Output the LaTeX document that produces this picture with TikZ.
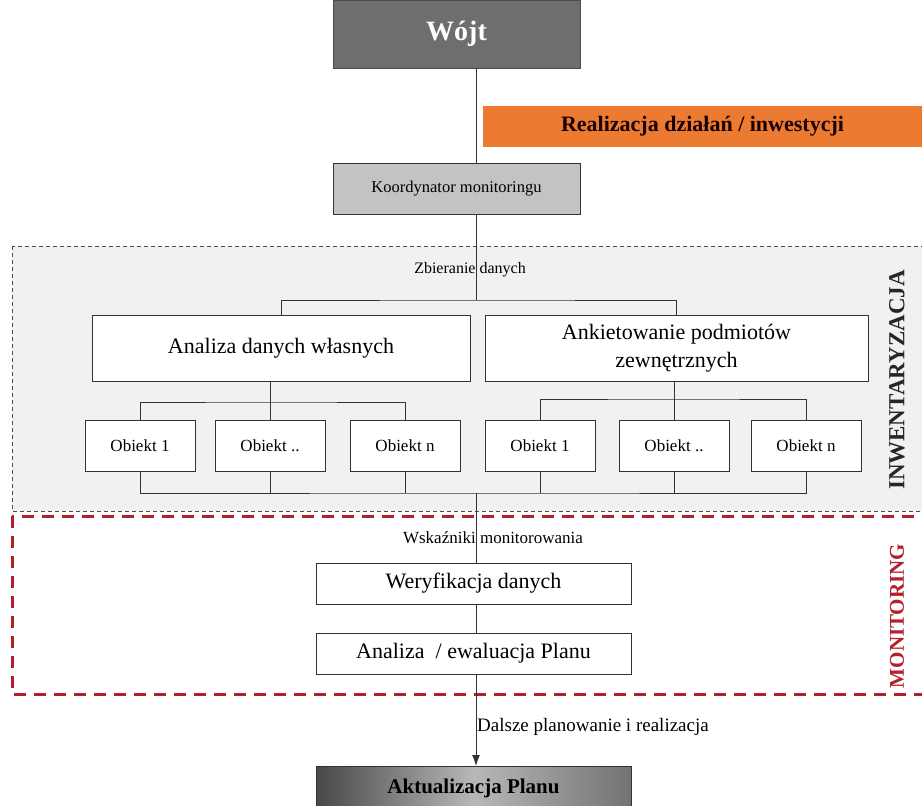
\documentclass[tikz,border=0pt]{standalone}
\usepackage{fontspec}
\setmainfont{Liberation Serif}
\usetikzlibrary{arrows,arrows.meta,shapes,positioning,calc}
\definecolor{wojtfill}{HTML}{6E6E6E}
\definecolor{koordfill}{HTML}{C3C3C3}
\definecolor{realizfill}{HTML}{EC7A30}
\definecolor{inwfill}{HTML}{F1F1F1}
\definecolor{monred}{HTML}{B3202C}

\begin{document}
\begin{tikzpicture}[x=1pt,y=-1pt,
    box/.style={draw=black!80, line width=1pt, inner sep=0pt, outer sep=0pt, align=center, fill=white},
    obj/.style={box, minimum width=110pt, minimum height=51pt, font=\fontsize{17}{20}\selectfont},
    bigbox/.style={box, minimum height=66pt, font=\fontsize{22}{28}\selectfont},
    monbox/.style={box, minimum width=315pt, minimum height=41pt, font=\fontsize{22}{26}\selectfont},
    lbl/.style={inner sep=0pt, font=\fontsize{17}{20}\selectfont},
    link/.style={draw=black!80, line width=1pt}]
\useasboundingbox (0,0) rectangle (922,806);

% obszary
\draw[fill=inwfill, draw=black!70, line width=1pt, dash pattern=on 4pt off 3pt] (12,246) rectangle (935,511);
\draw[draw=monred, line width=3pt, dash pattern=on 12pt off 8pt] (12,516) rectangle (935,694);
\node[rotate=90, font=\bfseries\fontsize{23}{26}\selectfont, text=black!85] (inw) at (897,380) {INWENTARYZACJA};
\node[rotate=90, font=\bfseries\fontsize{21}{24}\selectfont, text=monred] (mon) at (897,616) {MONITORING};

% gora
\draw node[box, fill=wojtfill, draw=black!70, minimum width=247pt, minimum height=68pt, text=white, font=\bfseries\fontsize{28}{32}\selectfont] (wojt) at (456.5,34) {Wójt};
\draw node[inner sep=0pt, fill=realizfill, minimum width=439pt, minimum height=41pt, text=black!90!red, font=\bfseries\fontsize{22}{26}\selectfont] (realiz) at (702.5,126.5) {Realizacja działań / inwestycji};
\draw node[box, fill=koordfill, minimum width=247pt, minimum height=51pt, font=\fontsize{16.5}{20}\selectfont] (koord) at (456.5,188.5) {Koordynator monitoringu};

\coordinate (spine) at (476,0);
\coordinate (bus1) at (476,300);
\coordinate (bus2) at (476,493);

\node[lbl, font=\fontsize{16}{20}\selectfont] (zbier) at (470,270) {Zbieranie danych};

% inwentaryzacja
\draw node[bigbox, minimum width=378pt] (analiza) at (281,348) {Analiza danych własnych};
\draw node[bigbox, minimum width=383pt] (ankiet) at (676.5,348) {Ankietowanie podmiotów\\zewnętrznych};

\draw node[obj] (o1) at (140,445.5) {Obiekt 1};
\draw node[obj] (o2) at (270,445.5) {Obiekt ..};
\draw node[obj] (o3) at (405,445.5) {Obiekt n};
\draw node[obj] (o4) at (540,445.5) {Obiekt 1};
\draw node[obj] (o5) at (674,445.5) {Obiekt ..};
\draw node[obj] (o6) at (806,445.5) {Obiekt n};

\draw[link] (wojt.south -| spine) -- (koord.north -| spine);
\draw[link] (koord.south -| spine) -- (bus1);
\draw[link] (analiza.north) |- (bus1) -| (ankiet.north);

\draw[link] (analiza.south -| o2.north) -- (o2.north);
\draw[link] (o1.north) |- ($(o2.north)+(0,-18)$) -| (o3.north);
\draw[link] (ankiet.south -| o5.north) -- (o5.north);
\draw[link] (o4.north) |- ($(o5.north)+(0,-21)$) -| (o6.north);

\draw[link] (o1.south) |- (bus2) -| (o6.south);
\foreach \o in {o2,o3,o4,o5} {
  \draw[link] (\o.south) -- (\o.south |- bus2);
}

% monitoring
\node[lbl] (wskaz) at (493,538) {Wskaźniki monitorowania};
\draw node[monbox] (weryf) at (473.5,583.5) {Weryfikacja danych};
\draw node[monbox] (ewal) at (473.5,653.5) {Analiza \ / ewaluacja Planu};
\draw node[box, minimum width=315pt, minimum height=44pt, left color=black!72, right color=black!55, middle color=black!28, font=\bfseries\fontsize{21}{24}\selectfont] (aktual) at (473.5,788) {Aktualizacja Planu};

\draw[link] (bus2) -- (weryf.north -| spine);
\draw[link] (weryf.south -| spine) -- (ewal.north -| spine);
\draw (ewal.south -| spine) edge[->,>={Latex[length=11pt,width=8pt]}, link] (aktual.north -| spine);
\node[lbl, anchor=west, font=\fontsize{19}{22}\selectfont] (dalsze) at (477,727) {Dalsze planowanie i realizacja};
\end{tikzpicture}
\end{document}
